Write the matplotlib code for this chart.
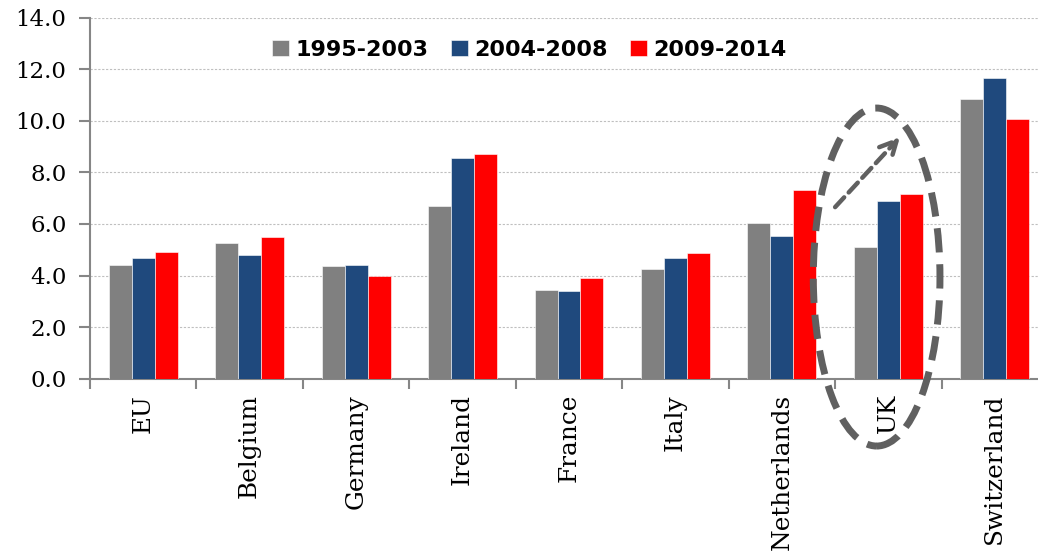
import matplotlib
matplotlib.use("Agg")
import matplotlib.pyplot as plt
import numpy as np
from matplotlib.patches import Ellipse

categories = ["EU", "Belgium", "Germany", "Ireland", "France", "Italy",
              "Netherlands", "UK", "Switzerland"]
series_names = ["1995-2003", "2004-2008", "2009-2014"]
v_1995_2003 = [4.42, 5.27, 4.38, 6.68, 3.45, 4.27, 6.05, 5.12, 10.86]
v_2004_2008 = [4.66, 4.78, 4.42, 8.57, 3.41, 4.69, 5.54, 6.87, 11.67]
v_2009_2014 = [4.90, 5.51, 3.97, 8.72, 3.89, 4.86, 7.33, 7.15, 10.08]
colors = ["#808080", "#1F497D", "#FF0000"]
yticks = [0, 2, 4, 6, 8, 10, 12, 14]

W, H = 1038, 554
fig = plt.figure(figsize=(W / 100, H / 100), dpi=100)
ax = fig.add_axes([90 / W, (H - 378.7) / H, 958 / W, 361.2 / H])

x = np.arange(len(categories))
bw = 0.216
for i, (vals, c, name) in enumerate(zip([v_1995_2003, v_2004_2008, v_2009_2014], colors, series_names)):
    ax.bar(x + (i - 1) * bw, vals, width=bw, color=c, label=name,
           edgecolor="white", linewidth=0.4, zorder=3)

ax.set_xlim(-0.5, len(categories) - 0.5)
ax.set_ylim(0, 14)
ax.set_yticks(yticks)
ax.set_yticklabels([f"{v:.1f}" for v in yticks], fontfamily="DejaVu Serif", fontsize=16.5)
ax.yaxis.grid(True, color="#BFBFBF", linestyle=(0, (2, 1.5)), linewidth=0.8, zorder=0)
ax.set_axisbelow(True)

ax.set_xticks(np.arange(len(categories) + 1) - 0.5)
ax.set_xticklabels([])
ax.set_xticks(x, minor=True)
ax.set_xticklabels(categories, minor=True, rotation=90, fontfamily="DejaVu Serif",
                   fontsize=17.8, va="top", ha="center")
ax.tick_params(axis="x", which="minor", length=0, pad=11)
ax.tick_params(axis="x", which="major", length=7, width=1.5, color="#868686", direction="out")
ax.tick_params(axis="y", length=8, width=1.5, color="#868686", direction="out", pad=9)

for s in ["top", "right"]:
    ax.spines[s].set_visible(False)
for s in ["left", "bottom"]:
    ax.spines[s].set_color("#868686")
    ax.spines[s].set_linewidth(1.5)

leg = ax.legend(loc="center", bbox_to_anchor=(529.5 / W, 1 - 50 / H), bbox_transform=fig.transFigure,
                ncol=3, frameon=False, handlelength=0.75, handleheight=0.75, handletextpad=0.3,
                columnspacing=1.0, borderpad=0,
                prop={"family": "DejaVu Sans", "weight": "bold", "size": 16})

# annotation: dashed ellipse around UK and dashed arrow
ell = Ellipse((6.89, 3.94), width=1.19, height=13.1, fill=False, edgecolor="#606060",
              linewidth=5, linestyle=(0, (3.5, 1.7)), clip_on=False, zorder=5, angle=0)
ax.add_patch(ell)
ax.annotate("", xy=(7.11, 9.37), xytext=(6.5, 6.65),
            arrowprops=dict(arrowstyle="->", color="#606060", linewidth=3.2,
                            linestyle=(0, (3, 1.5)), mutation_scale=30, shrinkA=0, shrinkB=0),
            annotation_clip=False, zorder=6)

fig.savefig("out.png", dpi=100)
